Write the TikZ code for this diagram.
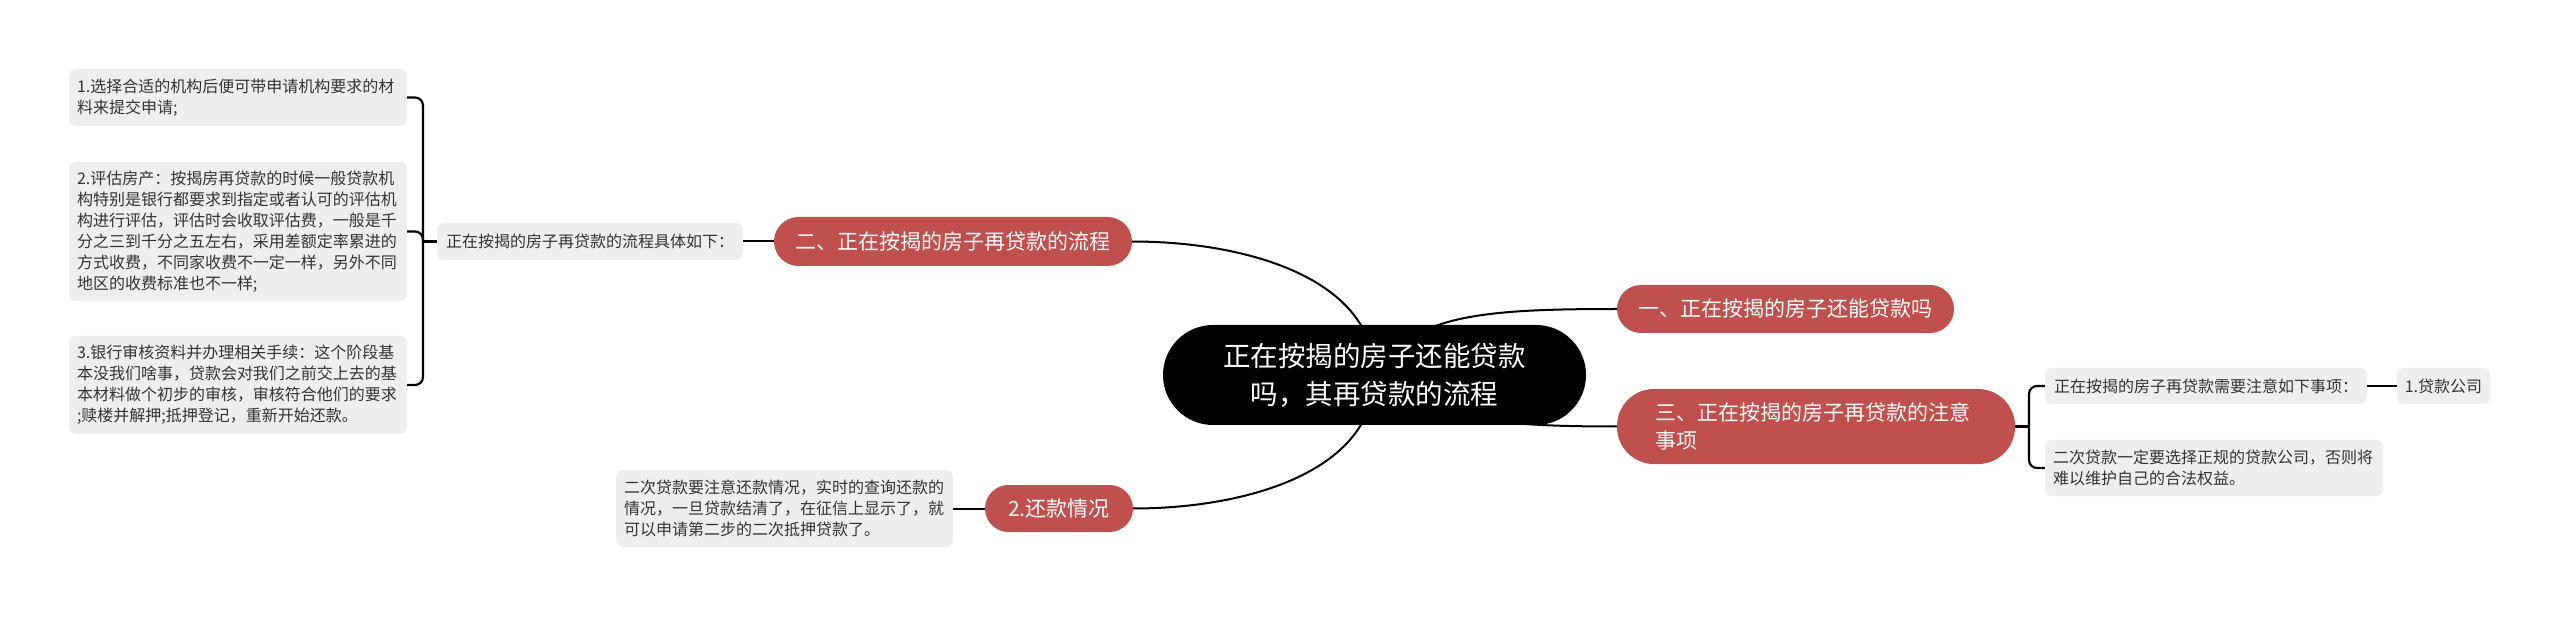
\documentclass[tikz,border=0pt]{standalone}
\usepackage{fontspec}
\newfontfamily\cjk{Noto Sans CJK SC}
\setlength{\parindent}{0pt}
\definecolor{rednode}{HTML}{C0504D}
\definecolor{leaffill}{HTML}{EEEEEE}
\definecolor{leaftext}{HTML}{333333}
\begin{document}
\begin{tikzpicture}[x=1pt,y=-1pt,
  rootnode/.style={fill=black, text=white, rounded corners=50pt, minimum width=423pt, minimum height=100pt, inner sep=0pt, align=center, font=\cjk\fontsize{27.5}{38}\selectfont},
  mainnode/.style={fill=rednode, text=white, inner sep=0pt, align=center, font=\cjk\fontsize{21}{28}\selectfont},
  leafnode/.style={fill=leaffill, text=leaftext, rounded corners=7pt, inner xsep=8pt, inner ysep=0pt, align=left, font=\cjk\fontsize{16}{21}\selectfont},
  link/.style={draw=black, line width=2pt},
  bracelink/.style={draw=black, line width=2.2pt, rounded corners=8pt}
]
\useasboundingbox (0,0) rectangle (2560,617);
\fill[white] (0,0) rectangle (2560,617);

% connectors from root (drawn first, behind nodes)
\coordinate (rc) at (1374.5,375);
\draw[link] (1132,241.5) .. controls (1250,241.5) and (1374.5,280) .. (rc);
\draw[link] (1133,508.5) .. controls (1250,508.5) and (1374.5,470) .. (rc);
\draw[link] (rc) .. controls (1410,315) and (1480,309) .. (1617,309);
\draw[link] (rc) .. controls (1430,420) and (1500,426.5) .. (1617,426.5);

% root
\node[rootnode] (root) at (1374.5,375) {正在按揭的房子还能贷款\\吗，其再贷款的流程};

% main topics
\node[mainnode, rounded corners=24.5pt, minimum width=358pt, minimum height=49pt] (m2) at (953,241.5) {二、正在按揭的房子再贷款的流程};
\node[mainnode, rounded corners=24pt, minimum width=337pt, minimum height=48pt] (m1) at (1785.5,309) {一、正在按揭的房子还能贷款吗};
\node[mainnode, rounded corners=37pt, minimum width=398pt, minimum height=75pt, text width=322pt, align=left] (m3) at (1816,426.5) {三、正在按揭的房子再贷款的注意\\事项};
\node[mainnode, rounded corners=23.5pt, minimum width=148pt, minimum height=47pt] (m4) at (1059,508.5) {2.还款情况};

% left branch
\node[leafnode, minimum width=306pt, minimum height=37pt] (mid) at (590,241.5) {正在按揭的房子再贷款的流程具体如下：};
\node[leafnode, text width=322pt, minimum height=57pt] (b1) at (238,97.5) {1.选择合适的机构后便可带申请机构要求的材\\料来提交申请;};
\node[leafnode, text width=322pt, minimum height=139pt] (b2) at (238,231.5) {2.评估房产：按揭房再贷款的时候一般贷款机\\构特别是银行都要求到指定或者认可的评估机\\构进行评估，评估时会收取评估费，一般是千\\分之三到千分之五左右，采用差额定率累进的\\方式收费，不同家收费不一定一样，另外不同\\地区的收费标准也不一样;};
\node[leafnode, text width=322pt, minimum height=98pt] (b3) at (238,385) {3.银行审核资料并办理相关手续：这个阶段基\\本没我们啥事，贷款会对我们之前交上去的基\\本材料做个初步的审核，审核符合他们的要求\\;赎楼并解押;抵押登记，重新开始还款。};

\draw[link] (m2.west) -- (mid.east);
\coordinate (lb) at (423,241.5);
\draw[bracelink] (mid.west) -- (lb);
\draw[bracelink] (b1.east) -- (lb |- b1.east) -- (lb |- b3.east) -- (b3.east);
\draw[bracelink] (b2.east) -- (lb |- b2.east) -- (lb);

% bottom branch
\node[leafnode, text width=321pt, minimum height=77pt] (bl) at (784.5,508.5) {二次贷款要注意还款情况，实时的查询还款的\\情况，一旦贷款结清了，在征信上显示了，就\\可以申请第二步的二次抵押贷款了。};
\draw[link] (bl.east) -- (m4.west);

% right branch
\node[leafnode, minimum width=322pt, minimum height=36pt] (r1) at (2206,386) {正在按揭的房子再贷款需要注意如下事项：};
\node[leafnode, minimum width=93pt, minimum height=36pt] (r1a) at (2443.5,386) {1.贷款公司};
\node[leafnode, text width=322pt, minimum height=56pt] (r2) at (2214,468) {二次贷款一定要选择正规的贷款公司，否则将\\难以维护自己的合法权益。};

\coordinate (rb) at (2029,426.5);
\draw[bracelink] (m3.east) -- (rb);
\draw[bracelink] (r1.west) -- (rb |- r1.west) -- (rb |- r2.west) -- (r2.west);
\draw[link] (r1.east) -- (r1a.west);
\end{tikzpicture}
\end{document}
